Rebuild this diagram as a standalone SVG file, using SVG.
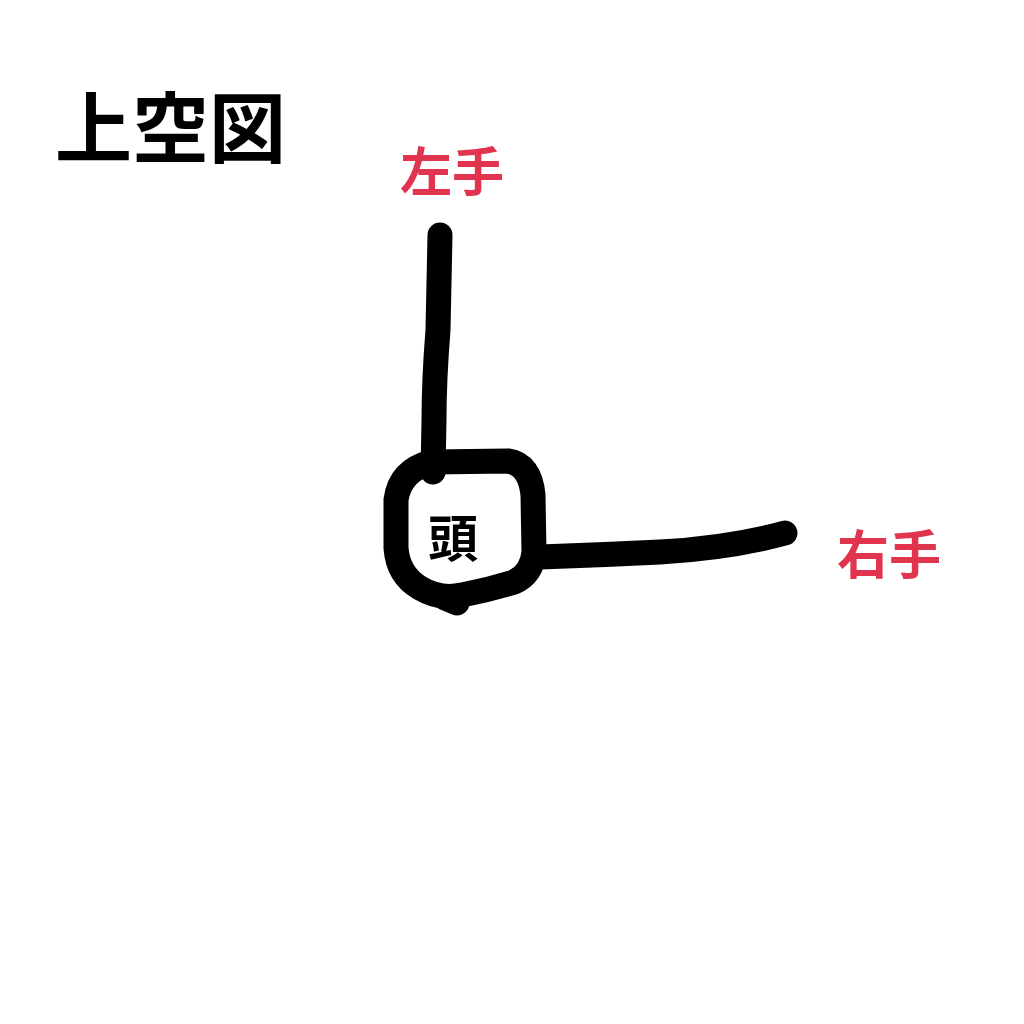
<svg xmlns="http://www.w3.org/2000/svg" width="1024" height="1024" viewBox="0 0 1024 1024">
<style>
.ink{fill:none;stroke:#000;stroke-width:25;stroke-linecap:round;stroke-linejoin:round}
.jp{font-family:"Noto Sans CJK JP","Noto Sans CJK SC",sans-serif}
.red{fill:#e0344f;font-size:52px;font-weight:700}
</style>
<rect width="1024" height="1024" fill="#fff"/>
<text class="jp" x="55" y="157" font-size="77" font-weight="700" fill="#000">上空図</text>
<g id="left-hand-label"><text class="jp red" x="400" y="191">左手</text></g>
<g id="right-hand-label"><text class="jp red" x="837" y="574">右手</text></g>
<g id="connectors">
<path class="ink" d="M440 235 L438 330 Q434 380 434 420 L433 472"/>
<path class="ink" d="M540 557 Q600 555 660 552 Q730 548 785 533"/>
</g>
<g id="head">
<path class="ink" d="M432 462 L508 461 Q530 464 533 495 L534 552 Q532 574 514 582 Q488 590 462 595 Q440 600 420 588 Q398 575 396 548 L396 500 Q400 470 432 462 Z"/>
<path class="ink" d="M445 598 L457 603"/>
<text class="jp" x="428" y="557" font-size="50" font-weight="700" fill="#000">頭</text>
</g>
</svg>
